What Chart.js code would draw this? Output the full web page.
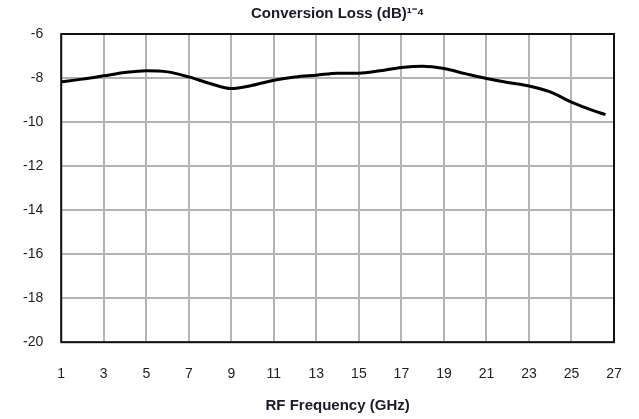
<!DOCTYPE html>
<html>
<head>
<meta charset="utf-8">
<script src="https://cdn.jsdelivr.net/npm/chart.js@4"></script>
<style>
  html, body { margin: 0; padding: 0; background: #fff; }
  #wrap { width: 639px; height: 419px; }
</style>
</head>
<body>
<div id="wrap"><canvas id="lossChart" width="639" height="419"></canvas></div>
<script>
// data
const freqGHz = [1, 2, 3, 4, 5, 6, 7, 8, 9, 10, 11, 12, 13, 14, 15, 16, 17, 18, 19, 20, 21, 22, 23, 24, 25, 26, 26.6];
const lossDb = [-8.17, -8.05, -7.9, -7.75, -7.67, -7.72, -7.95, -8.25, -8.48, -8.33, -8.1, -7.95, -7.87, -7.78, -7.78, -7.67, -7.52, -7.46, -7.57, -7.8, -8.02, -8.2, -8.36, -8.63, -9.09, -9.47, -9.66];
const xTicks = [1, 3, 5, 7, 9, 11, 13, 15, 17, 19, 21, 23, 25, 27];
const yTicks = [-6, -8, -10, -12, -14, -16, -18, -20];

const fontName = "'Liberation Sans', Arial, sans-serif";

// plot box frame drawn over the chart area
const frame = {
  id: 'frame',
  afterDatasetsDraw(chart) {
    const a = chart.chartArea;
    const ctx = chart.ctx;
    ctx.save();
    ctx.strokeStyle = '#111';
    ctx.lineWidth = 2;
    ctx.strokeRect(a.left, a.top, a.right - a.left, a.bottom - a.top);
    ctx.restore();
  }
};

new Chart(document.getElementById('lossChart'), {
  type: 'line',
  data: {
    datasets: [{
      data: freqGHz.map((f, i) => ({ x: f, y: lossDb[i] })),
      borderColor: '#000',
      borderWidth: 3,
      pointRadius: 0,
      cubicInterpolationMode: 'monotone',
      fill: false
    }]
  },
  options: {
    responsive: false,
    animation: false,
    layout: { padding: { left: 5, right: 25, top: 5, bottom: 4 } },
    plugins: {
      legend: { display: false },
      tooltip: { enabled: false },
      title: {
        display: true,
        fullSize: false,
        text: 'Conversion Loss (dB)\u00B9\u207B\u2074',
        color: '#1a1a2a',
        font: { family: fontName, size: 15, weight: 'bold' },
        padding: { top: 0, bottom: 11 }
      }
    },
    scales: {
      x: {
        type: 'linear',
        min: xTicks[0],
        max: xTicks[xTicks.length - 1],
        afterBuildTicks: (s) => { s.ticks = xTicks.map(v => ({ value: v })); },
        grid: { color: '#b4b4b4', lineWidth: 2, drawTicks: true, tickLength: 22, tickColor: 'rgba(0,0,0,0)' },
        border: { display: false },
        ticks: { color: '#222', padding: 2, maxRotation: 0, font: { family: fontName, size: 14 } },
        title: {
          display: true,
          text: 'RF Frequency (GHz)',
          color: '#1a1a2a',
          font: { family: fontName, size: 15, weight: 'bold' },
          padding: { top: 12, bottom: 0 }
        }
      },
      y: {
        min: -20,
        max: -6,
        afterBuildTicks: (s) => { s.ticks = yTicks.map(v => ({ value: v })); },
        grid: { color: '#b4b4b4', lineWidth: 2, drawTicks: false },
        border: { display: false },
        ticks: { color: '#222', padding: 18, font: { family: fontName, size: 14 } }
      }
    }
  },
  plugins: [frame]
});
</script>
</body>
</html>
